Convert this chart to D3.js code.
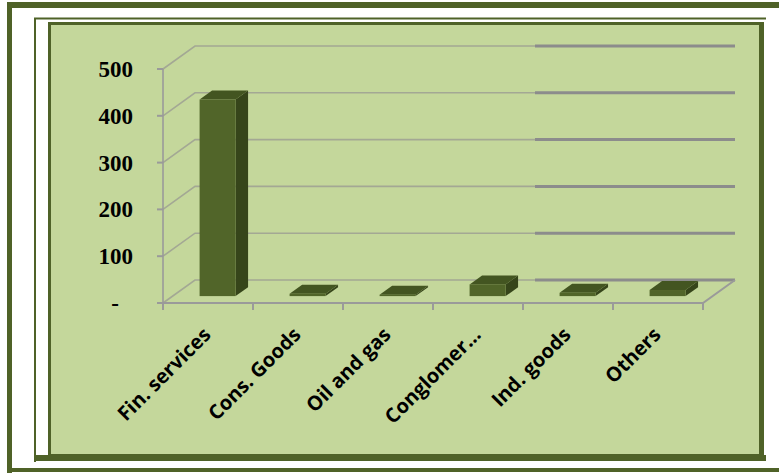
<!DOCTYPE html>
<html>
<head>
<meta charset="utf-8">
<script src="https://cdn.jsdelivr.net/npm/d3@7"></script>
<style>
  html, body { margin: 0; padding: 0; background: #fff; }
  svg { display: block; }
</style>
</head>
<body>
<div id="chart"></div>
<script>
const width = 779;
const height = 473;

// data
const categories = ["Fin. services", "Cons. Goods", "Oil and gas", "Conglomer\u2026", "Ind. goods", "Others"];
const values = [420, 5, 3, 25, 7, 13];
const yTicks = [0, 100, 200, 300, 400, 500];
const yTickLabels = ["-", "100", "200", "300", "400", "500"];

const olive = "#4f6228";
const panelFill = "#c4d79b";
const gridGrey = "#8c8c8c";

const svg = d3.select("#chart")
    .append("svg")
    .attr("width", width)
    .attr("height", height)
    .attr("viewBox", `0 0 ${width} ${height}`);

svg.append("rect").attr("width", width).attr("height", height).attr("fill", "#fff");

// --- frames ---
// outer frame (top, left, bottom bands)
svg.append("rect").attr("x", 7).attr("y", 2).attr("width", width - 7).attr("height", 6).attr("fill", olive);
svg.append("rect").attr("x", 7).attr("y", 2).attr("width", 5).attr("height", height - 2).attr("fill", olive);
svg.append("rect").attr("x", 7).attr("y", 468).attr("width", width - 7).attr("height", 4).attr("fill", olive);

// thin inner frame
svg.append("line").attr("x1", 34).attr("x2", 766).attr("y1", 18.5).attr("y2", 18.5)
    .attr("stroke", olive).attr("stroke-width", 2);
svg.append("line").attr("x1", 35).attr("x2", 35).attr("y1", 18).attr("y2", 462)
    .attr("stroke", olive).attr("stroke-width", 2);

// green panel with shadowed right/bottom edges
svg.append("rect").attr("x", 35).attr("y", 455).attr("width", 731).attr("height", 6).attr("fill", olive);
svg.append("rect").attr("x", 759).attr("y", 22).attr("width", 5).attr("height", 438).attr("fill", olive);
svg.append("rect")
    .attr("x", 49.5).attr("y", 23.5)
    .attr("width", 711).attr("height", 432)
    .attr("fill", panelFill)
    .attr("stroke", olive)
    .attr("stroke-width", 3);

// --- plot (fake 3D) ---
const depth = { dx: 32, dy: -23 };   // full floor depth
const f0 = 0.3, f1 = 0.69;            // bar depth range

const x = d3.scaleBand()
    .domain(categories)
    .range([163, 703])
    .paddingInner(0.6)
    .paddingOuter(0.3);

const y = d3.scaleLinear()
    .domain([0, 500])
    .range([303, 69]);

const xLeft = x.range()[0];
const xRight = x.range()[1];
const splitX = 535;   // the right half of the grid lines is heavier in the original

const grid = svg.append("g");

yTicks.forEach(t => {
    const yy = y(t);
    // left wall diagonal + back wall line
    grid.append("path")
        .attr("d", `M${xLeft},${yy}L${xLeft + depth.dx},${yy + depth.dy}L${xRight + depth.dx},${yy + depth.dy}`)
        .attr("fill", "none")
        .attr("stroke", "#a3a894")
        .attr("stroke-width", 1.6);
    grid.append("line")
        .attr("x1", splitX).attr("x2", xRight + depth.dx)
        .attr("y1", yy + depth.dy).attr("y2", yy + depth.dy)
        .attr("stroke", gridGrey)
        .attr("stroke-width", 3);
});

// floor front edge and right edge
grid.append("path")
    .attr("d", `M${xLeft},${y(0)}L${xRight},${y(0)}L${xRight + depth.dx},${y(0) + depth.dy}`)
    .attr("fill", "none")
    .attr("stroke", "#9a9a9a")
    .attr("stroke-width", 2);

// value axis line and ticks
grid.append("line")
    .attr("x1", xLeft).attr("x2", xLeft)
    .attr("y1", y(500)).attr("y2", y(0))
    .attr("stroke", "#9a9a9a").attr("stroke-width", 1.6);

grid.selectAll(".ytick")
    .data(yTicks)
    .enter()
    .append("line")
    .attr("x1", xLeft - 6).attr("x2", xLeft)
    .attr("y1", d => y(d)).attr("y2", d => y(d))
    .attr("stroke", "#9a9a9a").attr("stroke-width", 2);

// category ticks
const catTicks = d3.range(categories.length + 1).map(i => xLeft + i * x.step());
grid.selectAll(".xtick")
    .data(catTicks)
    .enter()
    .append("line")
    .attr("x1", d => d).attr("x2", d => d)
    .attr("y1", y(0)).attr("y2", y(0) + 7)
    .attr("stroke", "#9a9a9a").attr("stroke-width", 2);

// bars
const bars = svg.append("g");
const ox = f0 * depth.dx, oy = f0 * depth.dy;
const ddx = (f1 - f0) * depth.dx, ddy = (f1 - f0) * depth.dy;

categories.forEach((c, i) => {
    const x0 = x(c) + ox;
    const x1 = x(c) + x.bandwidth() + ox;
    const yb = y(0) + oy;
    const yt = y(values[i]) + oy;
    const g = bars.append("g");
    // side
    g.append("path")
        .attr("d", `M${x1},${yt}L${x1 + ddx},${yt + ddy}L${x1 + ddx},${yb + ddy}L${x1},${yb}Z`)
        .attr("fill", "#36451a");
    // top
    g.append("path")
        .attr("d", `M${x0},${yt}L${x1},${yt}L${x1 + ddx},${yt + ddy}L${x0 + ddx},${yt + ddy}Z`)
        .attr("fill", "#435521");
    // front
    g.append("rect")
        .attr("x", x0).attr("y", yt)
        .attr("width", x1 - x0).attr("height", Math.max(0.5, yb - yt))
        .attr("fill", "#516529");
});

// value labels
svg.append("g")
    .selectAll("text")
    .data(yTicks)
    .enter()
    .append("text")
    .attr("x", 133)
    .attr("y", d => y(d))
    .attr("dx", d => d === 0 ? -14 : 0)
    .attr("dy", "0.35em")
    .attr("text-anchor", "end")
    .attr("font-family", "'Liberation Serif', 'DejaVu Serif', serif")
    .attr("font-weight", "bold")
    .attr("font-size", 23)
    .attr("fill", "#000")
    .text((d, i) => yTickLabels[i]);

// category labels
svg.append("g")
    .selectAll("text")
    .data(categories)
    .enter()
    .append("text")
    .attr("transform", d => `translate(${x(d) + x.bandwidth() / 2 + 4},${336}) rotate(-45)`)
    .attr("text-anchor", "end")
    .attr("font-family", "'Open Sans', 'Liberation Sans', sans-serif")
    .attr("font-weight", "bold")
    .attr("font-size", 20)
    .attr("fill", "#000")
    .text(d => d);
</script>
</body>
</html>
